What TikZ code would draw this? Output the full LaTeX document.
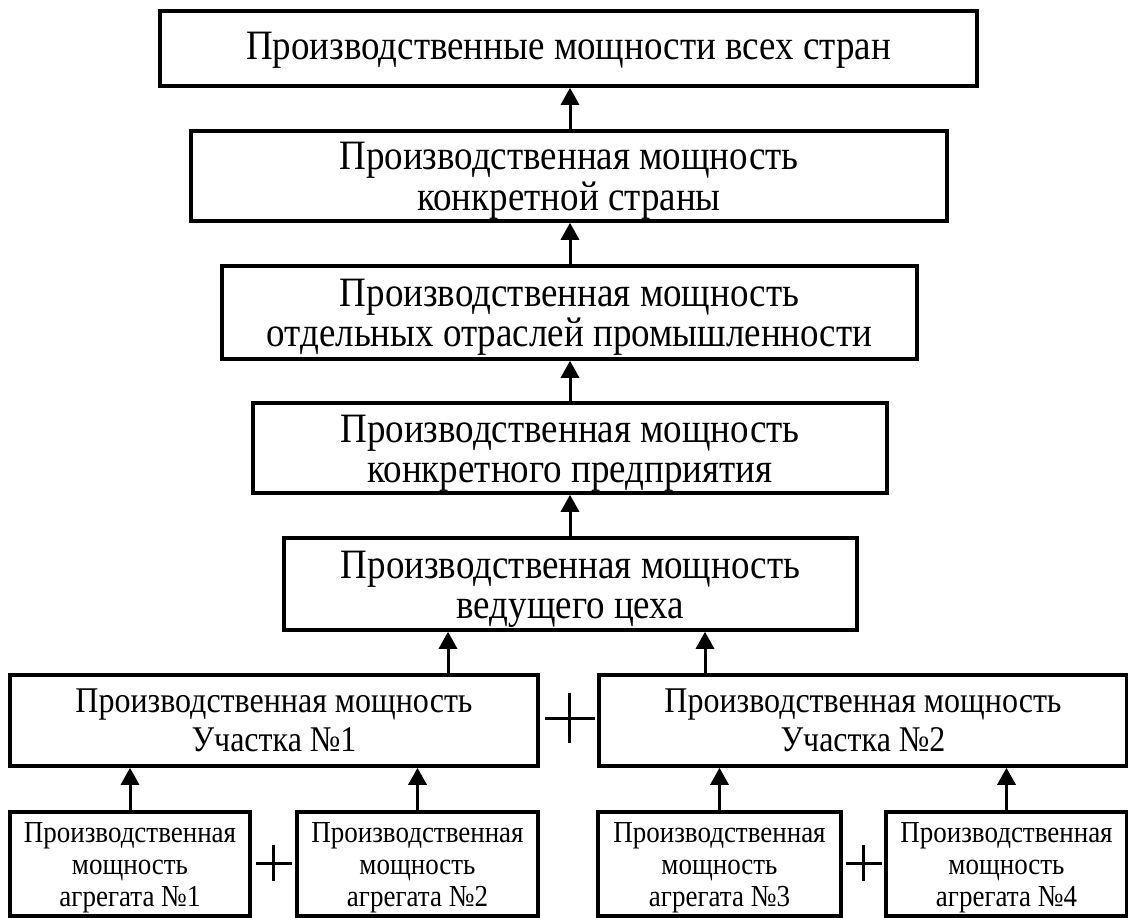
\documentclass[tikz,border=0pt]{standalone}
\usepackage{fontspec}
\setmainfont{Liberation Serif}
\usetikzlibrary{arrows.meta}
% block of centred lines, stretched vertically and lowered a little in its box
\newcommand\tallblock[2][5pt]{\raisebox{-#1}[\height][\depth]{\scalebox{1}[1.13]{\begin{tabular}{@{}c@{}}#2\end{tabular}}}}
\begin{document}
\begin{tikzpicture}[x=1pt,y=-1pt,
  box/.style={draw, line width=3.5pt, inner sep=0pt, anchor=center},
  bigtext/.style={font=\fontsize{37}{35.4}\selectfont},
  midtext/.style={font=\fontsize{32}{34.5}\selectfont},
  smalltext/.style={font=\fontsize{27}{28.3}\selectfont},
  arr/.style={line width=3pt, -{Triangle[length=17pt,width=18pt]}},
  plus/.style={line width=3pt}]
\useasboundingbox (0,0) rectangle (1128,918);
\fill[white] (0,0) rectangle (1128,918);

% hierarchy of capacities, top to bottom
\node[box,bigtext,minimum width=817pt,minimum height=75pt] (b1) at (568.5,48.5)
  {\tallblock[3pt]{Производственные мощности всех стран}};
\node[box,bigtext,minimum width=756pt,minimum height=90pt] (b2) at (569,176)
  {\tallblock[6pt]{Производственная мощность\\конкретной страны}};
\node[box,bigtext,minimum width=695pt,minimum height=93pt] (b3) at (569.5,312.5)
  {\tallblock[6pt]{Производственная мощность\\отдельных отраслей промышленности}};
\node[box,bigtext,minimum width=634pt,minimum height=90pt] (b4) at (570,448)
  {\tallblock[6pt]{Производственная мощность\\конкретного предприятия}};
\node[box,bigtext,minimum width=573pt,minimum height=92pt] (b5) at (570.5,584)
  {\tallblock[6pt]{Производственная мощность\\ведущего цеха}};

% sections
\node[box,midtext,minimum width=528pt,minimum height=91pt] (b6) at (274,720.5)
  {\tallblock[4pt]{Производственная мощность\\Участка №1}};
\node[box,midtext,minimum width=528pt,minimum height=91pt] (b7) at (863,720.5)
  {\tallblock[4pt]{Производственная мощность\\Участка №2}};

% units
\node[box,smalltext,minimum width=240pt,minimum height=104pt] (a1) at (130,864)
  {\tallblock[4pt]{Производственная\\мощность\\агрегата №1}};
\node[box,smalltext,minimum width=241pt,minimum height=104pt] (a2) at (417.5,864)
  {\tallblock[4pt]{Производственная\\мощность\\агрегата №2}};
\node[box,smalltext,minimum width=243pt,minimum height=104pt] (a3) at (719.5,864)
  {\tallblock[4pt]{Производственная\\мощность\\агрегата №3}};
\node[box,smalltext,minimum width=241pt,minimum height=104pt] (a4) at (1006.5,864)
  {\tallblock[4pt]{Производственная\\мощность\\агрегата №4}};

% arrows
\draw[arr] (b2.north -| 570,0) -- (b1.south -| 570,0);
\draw[arr] (b3.north -| 570,0) -- (b2.south -| 570,0);
\draw[arr] (b4.north -| 570,0) -- (b3.south -| 570,0);
\draw[arr] (b5.north -| 570,0) -- (b4.south -| 570,0);
\draw[arr] (b6.north -| 448,0) -- (b5.south -| 448,0);
\draw[arr] (b7.north -| 705,0) -- (b5.south -| 705,0);
\draw[arr] (a1.north) -- (a1.north |- b6.south);
\draw[arr] (a2.north) -- (a2.north |- b6.south);
\draw[arr] (a3.north) -- (a3.north |- b7.south);
\draw[arr] (a4.north) -- (a4.north |- b7.south);

% plus signs
\coordinate (p0) at (569.5,718);
\coordinate (p1) at (273.5,863);
\coordinate (p2) at (863.5,863);
\draw[plus] ([xshift=-25pt]p0) -- ([xshift=25pt]p0) ([yshift=-25pt]p0) -- ([yshift=25pt]p0);
\draw[plus] ([xshift=-18pt]p1) -- ([xshift=18pt]p1) ([yshift=-18pt]p1) -- ([yshift=18pt]p1);
\draw[plus] ([xshift=-18pt]p2) -- ([xshift=18pt]p2) ([yshift=-18pt]p2) -- ([yshift=18pt]p2);
\end{tikzpicture}
\end{document}
